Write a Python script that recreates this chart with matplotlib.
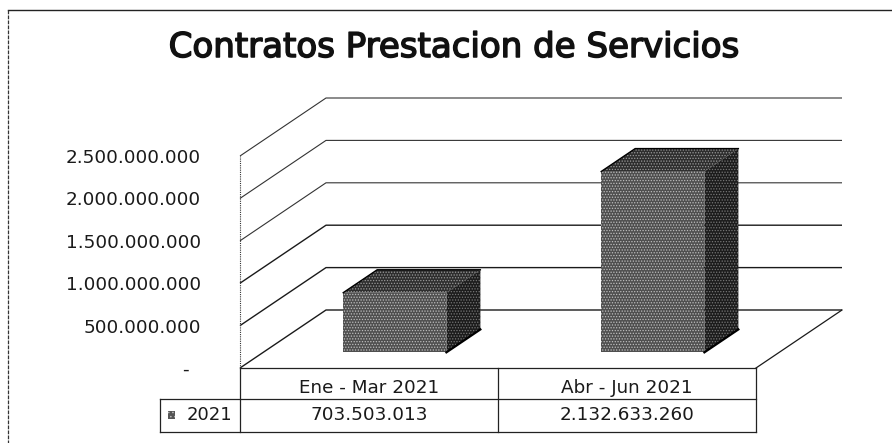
import matplotlib
matplotlib.use("Agg")
import matplotlib.pyplot as plt
import matplotlib.patheffects as pe
from matplotlib.patches import Polygon, Rectangle

TITLE = "Contratos Prestacion de Servicios"
categories = ["Ene - Mar 2021", "Abr - Jun 2021"]
series_name = "2021"
values = [703503013, 2132633260]
value_labels = ["703.503.013", "2.132.633.260"]
grid_values = [0, 500000000, 1000000000, 1500000000, 2000000000, 2500000000]
tick_labels = ["-  ", "500.000.000", "1.000.000.000", "1.500.000.000", "2.000.000.000", "2.500.000.000"]

W, H = 892, 443
plt.rcParams["font.family"] = ["DejaVu Sans"]
plt.rcParams["hatch.linewidth"] = 0.6
fig = plt.figure(figsize=(W / 100, H / 100), dpi=100, facecolor="white")

def px_axes(x0, y0, x1, y1):
    return fig.add_axes([x0 / W, 1 - y1 / H, (x1 - x0) / W, (y1 - y0) / H])

# Front plane of the oblique 3D chart
ax = px_axes(240, 156, 756, 368)
ax.set_xlim(0, 2)
ax.set_ylim(0, 2500000000)
ax.patch.set_alpha(0)
for s in ax.spines.values():
    s.set_visible(False)
ax.set_xticks([])
ax.set_yticks(grid_values)
ax.set_yticklabels(tick_labels, fontsize=13.2, color="#1a1a1a")
ax.tick_params(axis="y", length=0, pad=28)

# Oblique depth, in data units
DX = 86 / 258
DY = 58 / 212 * 2500000000

def proj(x, y, z):
    return (x + z * DX, y + z * DY)

# Walls and floor
for v in grid_values:
    a, b, c = proj(0, v, 0), proj(0, v, 1), proj(2, v, 1)
    upper = v >= 1500000000
    ax.plot([a[0], b[0], c[0]], [a[1], b[1], c[1]], color="#333333" if upper else "#1a1a1a",
            lw=0.8 if upper else 1.0, clip_on=False, solid_capstyle="butt")
ax.plot([0, 0], [0, grid_values[-1]], color="#333333", lw=0.8, ls=(0, (1, 1)), clip_on=False)
a, b = proj(2, 0, 0), proj(2, 0, 1)
ax.plot([a[0], b[0]], [a[1], b[1]], color="#1a1a1a", lw=0.9, clip_on=False)

# Bars
BAR_W = 0.40
Z0, Z1 = 0.27, 0.665
SHIFT = 0.01
for i, v in enumerate(values):
    cx = i + 0.5 + SHIFT
    x0, x1 = cx - BAR_W / 2, cx + BAR_W / 2
    top = [proj(x0, v, Z0), proj(x1, v, Z0), proj(x1, v, Z1), proj(x0, v, Z1)]
    side = [proj(x1, 0, Z0), proj(x1, v, Z0), proj(x1, v, Z1), proj(x1, 0, Z1)]
    ax.add_patch(Polygon(top, closed=True, facecolor="#2e2e2e", edgecolor="#9a9a9a",
                         hatch="......", lw=0, clip_on=False, zorder=3))
    ax.add_patch(Polygon(side, closed=True, facecolor="#1c1c1c", edgecolor="#777777",
                         hatch="......", lw=0, clip_on=False, zorder=3))
    fx, fy = proj(cx, 0, Z0)
    ax.bar(fx, v, width=BAR_W, bottom=fy, facecolor="#4f4f4f", edgecolor="#bdbdbd",
           hatch="......", lw=0, clip_on=False, zorder=4)
    ax.plot(*zip(top[0], top[3], top[2]), color="black", lw=1.0, clip_on=False, zorder=5)
    ax.plot(*zip(side[0], side[3]), color="black", lw=1.6, clip_on=False, zorder=5)

# Data table
tab = px_axes(160, 368, 756, 432)
LEFT = -80 / 258
tab.set_xlim(LEFT, 2)
tab.set_ylim(2.06, 0)
tab.axis("off")
TL = dict(color="#222222", lw=0.9, clip_on=False)
tab.plot([0, 2], [0, 0], **TL)
tab.plot([LEFT, 2], [1, 1], **TL)
tab.plot([LEFT, 2], [2.06, 2.06], **TL)
tab.plot([LEFT, LEFT], [1, 2.06], **TL)
for x in range(3):
    tab.plot([x, x], [0, 2.06], **TL)
for i, c in enumerate(categories):
    tab.text(i + 0.5, 0.64, c, ha="center", va="center", fontsize=13.2, color="#1a1a1a")
    tab.text(i + 0.5, 1.51, value_labels[i], ha="center", va="center", fontsize=13.2, color="#1a1a1a")
tab.text(LEFT + 0.105, 1.51, series_name, ha="left", va="center", fontsize=13, color="#1a1a1a")
tab.add_patch(Rectangle((LEFT + 0.03, 1.38), 0.03, 0.26, facecolor="#555555",
                        edgecolor="#bbbbbb", hatch="....", lw=0))

fig.text(454 / W, 1 - 57 / H, TITLE, ha="center", va="baseline", fontsize=24.5,
         color="#111111", path_effects=[pe.withStroke(linewidth=1.1, foreground="#111111")])

# Outer frame (top and left only are visible in the scan)
frame = px_axes(0, 0, W, H)
frame.set_xlim(0, W)
frame.set_ylim(H, 0)
frame.axis("off")
frame.patch.set_alpha(0)
frame.plot([8, W], [10, 10], color="#222222", lw=1.0)
frame.plot([8, 8], [10, H], color="#333333", lw=0.9, ls=(0, (3, 1)))

fig.savefig("out.png", dpi=100)
